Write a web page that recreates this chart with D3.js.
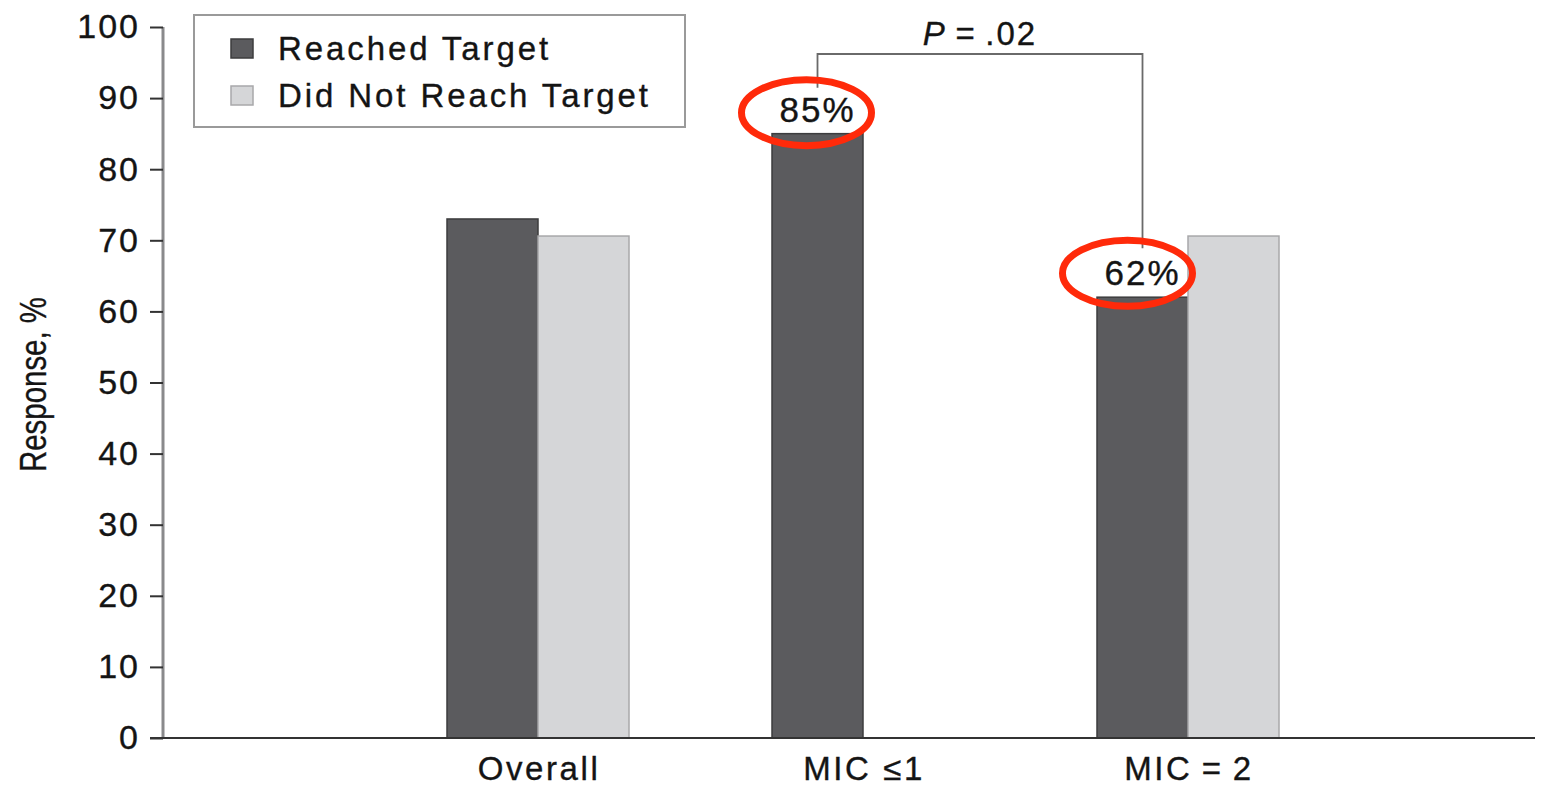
<!DOCTYPE html>
<html>
<head>
<meta charset="utf-8">
<script src="https://cdn.jsdelivr.net/npm/d3@7"></script>
<style>
  html, body { margin: 0; padding: 0; background: #fff; }
  svg { display: block; }
  text { font-family: "Liberation Sans", Arial, Helvetica, sans-serif; fill: #141414; stroke: #141414; stroke-width: 0.35px; }
</style>
</head>
<body>
<svg id="chart" width="1550" height="786"></svg>
<script>
// Response rate by MIC group, split by whether the target was reached
const categories = ["Overall", "MIC \u22641", "MIC\u2009=\u20092"];
const seriesNames = ["Reached Target", "Did Not Reach Target"];
const reachedTarget = [73, 85, 62];
const didNotReachTarget = [70.6, null, 70.6];
const yTickValues = [0, 10, 20, 30, 40, 50, 60, 70, 80, 90, 100];
const yAxisTitle = "Response, %";
const comparisonLabel = ".02";
const highlightedCategories = ["MIC \u22641", "MIC\u2009=\u20092"];

const colors = {
  "Reached Target": { fill: "#5b5b5e", stroke: "#3c3c3e" },
  "Did Not Reach Target": { fill: "#d5d6d8", stroke: "#a8a8aa" }
};

const svg = d3.select("#chart");

const margin = { left: 163 };
const y0 = 738;

const y = d3.scaleLinear().domain([0, 100]).range([y0, 27]);

const x0 = d3.scaleBand().domain(categories).range([375.5, 1350.5]).padding(0);
const groupWidth = 182;
const x1 = d3.scaleBand().domain(seriesNames).range([0, groupWidth]).padding(0);
const groupOffset = (x0.bandwidth() - groupWidth) / 2;

const rows = categories.map((c, i) => ({
  category: c,
  values: [
    { series: seriesNames[0], value: reachedTarget[i] },
    { series: seriesNames[1], value: didNotReachTarget[i] }
  ]
}));

function barX(cat, ser) { return x0(cat) + groupOffset + x1(ser); }
function barCenter(cat, ser) { return barX(cat, ser) + x1.bandwidth() / 2; }

// Bars
const groups = svg.append("g").selectAll("g")
  .data(rows).join("g");

groups.selectAll("rect")
  .data(d => d.values.filter(v => v.value != null).map(v => ({ ...v, category: d.category })))
  .join("rect")
  .attr("x", d => barX(d.category, d.series))
  .attr("y", d => y(d.value))
  .attr("width", x1.bandwidth())
  .attr("height", d => y(0) - y(d.value))
  .attr("fill", d => colors[d.series].fill)
  .attr("stroke", d => colors[d.series].stroke)
  .attr("stroke-width", 1.5);

const fontStack = "'Liberation Sans', Arial, sans-serif";

// Y axis
const yAxis = d3.axisLeft(y).tickValues(yTickValues).tickSize(13).tickPadding(10);
const gy = svg.append("g").attr("transform", `translate(${margin.left},0)`).call(yAxis);
gy.select(".domain").attr("stroke", "#8a8a8c").attr("stroke-width", 3)
  .attr("d", `M0,${y(100)}V${y(0)}`);
gy.selectAll(".tick line").attr("stroke", "#333").attr("stroke-width", 2);
gy.selectAll(".tick text")
  .attr("x", -23)
  .style("font-size", "34px")
  .style("letter-spacing", "2px")
  .style("font-family", fontStack)
  .attr("fill", "#141414");

// X axis baseline
const xAxis = d3.axisBottom(x0).tickSize(0).tickPadding(20);
const gx = svg.append("g").attr("transform", `translate(0,${y0})`).call(xAxis);
gx.select(".domain").attr("stroke", "#333").attr("stroke-width", 2)
  .attr("d", `M150,0H1535`);
gx.selectAll(".tick text")
  .attr("y", 42)
  .attr("dy", 0)
  .attr("dx", "1px")
  .style("font-size", "33px")
  .style("letter-spacing", "2.6px")
  .style("font-family", fontStack)
  .attr("fill", "#141414");

// Y axis title
svg.append("text")
  .attr("transform", `translate(46,${(297 + 472) / 2}) rotate(-90)`)
  .attr("text-anchor", "middle")
  .attr("textLength", 175)
  .attr("lengthAdjust", "spacingAndGlyphs")
  .style("font-size", "37px")
  .text(yAxisTitle);

// Legend
const legend = svg.append("g");
legend.append("rect")
  .attr("x", 194).attr("y", 15).attr("width", 491).attr("height", 112)
  .attr("fill", "#fff").attr("stroke", "#9a9a9a").attr("stroke-width", 2);
seriesNames.forEach((s, i) => {
  const cy = 48 + i * 47;
  legend.append("rect")
    .attr("x", 231).attr("y", cy - 9).attr("width", 22).attr("height", 19)
    .attr("fill", colors[s].fill).attr("stroke", colors[s].stroke).attr("stroke-width", 1.5);
  legend.append("text")
    .attr("x", 278).attr("y", cy + 12)
    .style("font-size", "33px")
    .style("letter-spacing", "2.9px")
    .text(s);
});

// Value labels on the highlighted "Reached Target" bars
const highlights = highlightedCategories.map(c => ({
  category: c,
  value: reachedTarget[categories.indexOf(c)]
}));

highlights.forEach(h => {
  const cx = barCenter(h.category, seriesNames[0]);
  const ty = y(h.value);
  svg.append("rect")
    .attr("x", cx - 52).attr("y", ty - 40).attr("width", 92).attr("height", 36)
    .attr("fill", "#fff");
  svg.append("text")
    .attr("x", cx).attr("y", ty - 12)
    .attr("text-anchor", "middle")
    .style("font-size", "35px")
    .style("letter-spacing", "2px")
    .text(`${h.value}%`);
});

// Significance bracket between the two MIC groups
const bx1 = barCenter(highlightedCategories[0], seriesNames[0]);
const bx2 = barCenter(highlightedCategories[1], seriesNames[0]);
const bTop = 54;
svg.append("path")
  .attr("d", `M${bx1},${y(highlights[0].value) - 46}V${bTop}H${bx2}V${y(highlights[1].value) - 49}`)
  .attr("fill", "none")
  .attr("stroke", "#6a6a6a")
  .attr("stroke-width", 1.8);

const pText = svg.append("text")
  .attr("x", (bx1 + bx2) / 2).attr("y", 45)
  .attr("text-anchor", "middle")
  .style("font-size", "33px")
  .style("letter-spacing", "2px");
pText.append("tspan").style("font-style", "italic").text("P");
pText.append("tspan").text("\u2009=\u2009" + comparisonLabel);

// Red ellipses around the value labels
highlights.forEach((h, i) => {
  const cx = barCenter(h.category, seriesNames[0]) - (i === 0 ? 11 : 15);
  const cy = y(h.value) - (i === 0 ? 21 : 24);
  svg.append("ellipse")
    .attr("cx", cx).attr("cy", cy)
    .attr("rx", 65).attr("ry", 33)
    .attr("fill", "none")
    .attr("stroke", "#ff2a0a")
    .attr("stroke-width", 7);
});
</script>
</body>
</html>
